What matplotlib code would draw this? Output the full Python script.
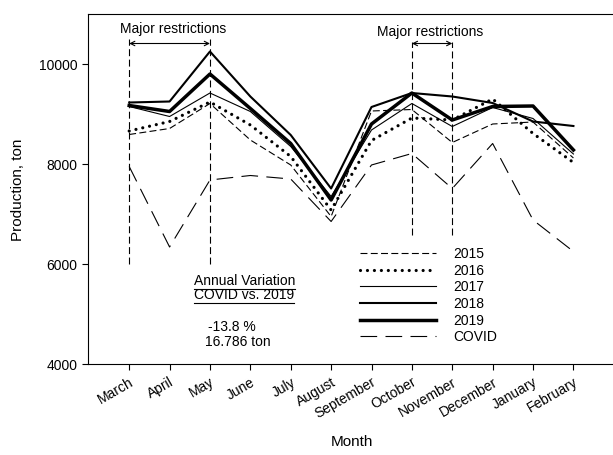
import matplotlib
matplotlib.use("Agg")
import matplotlib.pyplot as plt
from matplotlib.lines import Line2D

plt.rcParams['font.family'] = ['Liberation Sans', 'DejaVu Sans']
plt.rcParams['lines.scale_dashes'] = False

months = ["March", "April", "May", "June", "July", "August", "September",
          "October", "November", "December", "January", "February"]
y2015 = [8590, 8710, 9210, 8480, 7980, 6950, 9060, 9090, 8430, 8800, 8840, 8120]
y2016 = [8660, 8850, 9240, 8780, 8150, 7080, 8470, 8920, 8880, 9300, 8610, 8030]
y2017 = [9150, 8950, 9420, 9050, 8350, 7350, 8680, 9210, 8750, 9130, 8910, 8200]
y2018 = [9230, 9250, 10250, 9350, 8580, 7510, 9140, 9420, 9350, 9220, 8850, 8760]
y2019 = [9170, 9050, 9800, 9110, 8410, 7280, 8800, 9420, 8880, 9150, 9160, 8280]
ycovid = [7950, 6340, 7680, 7770, 7700, 6850, 7980, 8210, 7510, 8410, 6880, 6250]
series_labels = ["2015", "2016", "2017", "2018", "2019", "COVID"]

restr1 = [0, 2]
restr2 = [7, 8]
restr1_y = [6000, 10500]
restr2_y = [6580, 10450]

fig = plt.figure(figsize=(6.13, 4.55), dpi=100)
ax = fig.add_axes([88/613, 1 - 364/455, 525/613, 350/455])
x = list(range(len(months)))

ax.plot(x, y2015, color='black', lw=0.8, linestyle=(0, (5, 2.4)), label=series_labels[0])
ax.plot(x, y2016, color='black', lw=2.3, linestyle=(0, (0.01, 5.0)),
        dash_capstyle='round', label=series_labels[1])
ax.plot(x, y2017, color='black', lw=0.8, label=series_labels[2])
ax.plot(x, y2018, color='black', lw=1.5, label=series_labels[3])
ax.plot(x, y2019, color='black', lw=2.5, label=series_labels[4])
ax.plot(x, ycovid, color='black', lw=0.8, linestyle=(0, (12, 6)), label=series_labels[5])

for xv in restr1:
    ax.plot([xv, xv], restr1_y, color='black', lw=0.8, linestyle=(0, (5, 2.5)))
for xv in restr2:
    ax.plot([xv, xv], restr2_y, color='black', lw=0.8, linestyle=(0, (5, 2.5)))

ax.annotate('', xy=(restr1[0], 10410), xytext=(restr1[1], 10410),
            arrowprops=dict(arrowstyle='<->', lw=0.8, color='black',
                            shrinkA=0, shrinkB=0, mutation_scale=8))
ax.annotate('', xy=(restr2[0], 10410), xytext=(restr2[1], 10410),
            arrowprops=dict(arrowstyle='<->', lw=0.8, color='black',
                            shrinkA=0, shrinkB=0, mutation_scale=8))
ax.text(1.08, 10700, "Major restrictions", ha='center', va='center', fontsize=10)
ax.text(7.45, 10650, "Major restrictions", ha='center', va='center', fontsize=10)

t1 = ax.text(2.85, 5670, "Annual Variation", ha='center', va='center', fontsize=10)
t2 = ax.text(2.85, 5380, "COVID vs. 2019", ha='center', va='center', fontsize=10)
ax.text(2.55, 4750, "-13.8 %", ha='center', va='center', fontsize=10)
ax.text(2.68, 4450, "16.786 ton", ha='center', va='center', fontsize=10)

ax.set_xlim(-1.02, 11.98)
ax.set_ylim(4000, 11000)
ax.set_yticks([4000, 6000, 8000, 10000])
ax.set_xticks(x)
ax.set_xticklabels(months, rotation=30, ha='right', va='top', rotation_mode='anchor')
ax.tick_params(axis='both', direction='out', length=4, width=0.8, labelsize=10, colors='black')
ax.tick_params(axis='x', pad=4)
ax.spines['right'].set_visible(False)
for s in ['left', 'top', 'bottom']:
    ax.spines[s].set_linewidth(0.8)

fig.text(352/613, 1 - 442/455, "Month", ha='center', va='center', fontsize=11)
fig.text(18/613, 1 - 190/455, "Production, ton", ha='center', va='center',
         rotation=90, fontsize=11)

leg = ax.legend(loc='upper left', bbox_to_anchor=(360/613, 1 - 247/455),
                bbox_transform=fig.transFigure, frameon=False, fontsize=10,
                handlelength=5.5, handletextpad=1.2, labelspacing=0.19,
                borderpad=0, borderaxespad=0)

fig.canvas.draw()
r = fig.canvas.get_renderer()
for t in (t1, t2):
    bb = t.get_window_extent(renderer=r)
    yline = bb.y0 - 1
    fig.add_artist(Line2D([bb.x0 / 613, bb.x1 / 613], [yline / 455, yline / 455],
                          transform=fig.transFigure, color='black', lw=0.8))

fig.savefig("out.png", dpi=100)
